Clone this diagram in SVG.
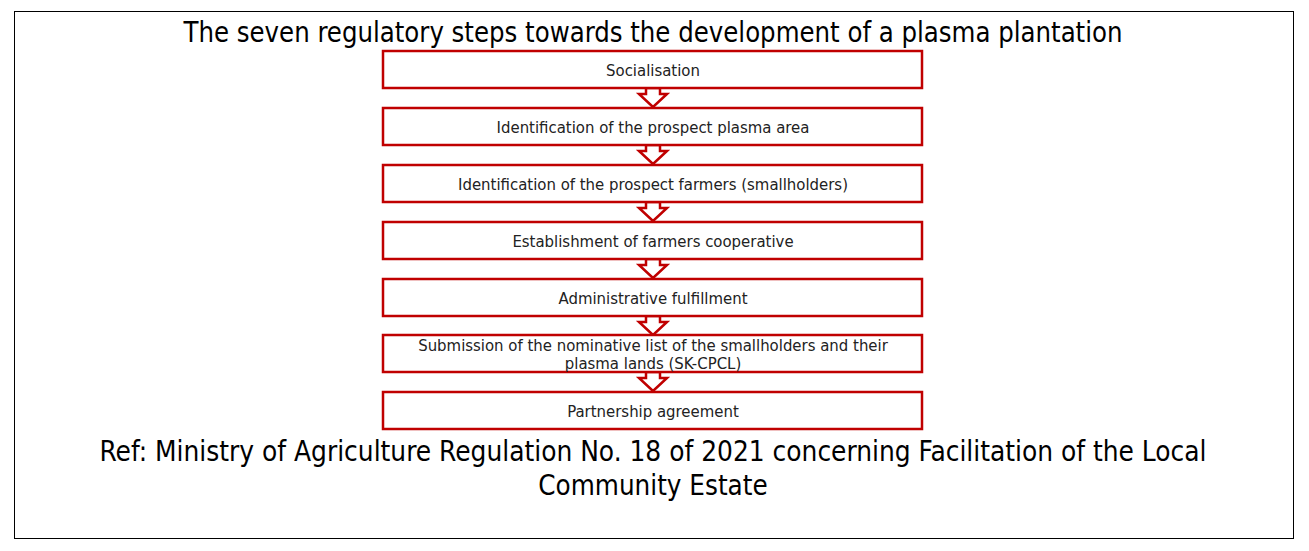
<svg xmlns="http://www.w3.org/2000/svg" width="1309" height="551" viewBox="0 0 1309 551">
<style>
.b{fill:#fff;stroke:#c00000;stroke-width:2.5}
.a{fill:#fff;stroke:#c00000;stroke-width:2.5;stroke-linejoin:miter}
.t{font-family:"DejaVu Sans Condensed","DejaVu Sans",sans-serif;font-size:16.6px;fill:#222;text-anchor:middle}
.h{font-family:"DejaVu Sans Condensed","DejaVu Sans",sans-serif;font-size:27.5px;fill:#000;text-anchor:middle}
</style>
<rect x="0" y="0" width="1309" height="551" fill="#fff"/>
<rect x="14.5" y="11.5" width="1279" height="527" fill="none" stroke="#000" stroke-width="1"/>
<text class="h" x="653" y="42" textLength="939" lengthAdjust="spacingAndGlyphs">The seven regulatory steps towards the development of a plasma plantation</text>
<g id="connectors">
<polygon class="a" points="646,88 646,94 639,94 653,107 667,94 660,94 660,88"/>
<polygon class="a" points="646,145 646,151 639,151 653,164 667,151 660,151 660,145"/>
<polygon class="a" points="646,202 646,208 639,208 653,221 667,208 660,208 660,202"/>
<polygon class="a" points="646,259 646,265 639,265 653,278 667,265 660,265 660,259"/>
<polygon class="a" points="646,316 646,322 639,322 653,335 667,322 660,322 660,316"/>
<polygon class="a" points="646,372 646,378 639,378 653,391 667,378 660,378 660,372"/>
</g>
<g id="n1"><rect class="b" x="383" y="51" width="539" height="37"/><text class="t" x="653" y="76">Socialisation</text></g>
<g id="n2"><rect class="b" x="383" y="108" width="539" height="37"/><text class="t" x="653" y="133">Identification of the prospect plasma area</text></g>
<g id="n3"><rect class="b" x="383" y="165" width="539" height="37"/><text class="t" x="653" y="190">Identification of the prospect farmers (smallholders)</text></g>
<g id="n4"><rect class="b" x="383" y="222" width="539" height="37"/><text class="t" x="653" y="247">Establishment of farmers cooperative</text></g>
<g id="n5"><rect class="b" x="383" y="279" width="539" height="37"/><text class="t" x="653" y="304">Administrative fulfillment</text></g>
<g id="n6"><rect class="b" x="383" y="335" width="539" height="37"/><text class="t" x="653" y="351">Submission of the nominative list of the smallholders and their</text><text class="t" x="653" y="369">plasma lands (SK-CPCL)</text></g>
<g id="n7"><rect class="b" x="383" y="392" width="539" height="37"/><text class="t" x="653" y="417">Partnership agreement</text></g>
<text class="h" x="653" y="461" textLength="1107" lengthAdjust="spacingAndGlyphs">Ref: Ministry of Agriculture Regulation No. 18 of 2021 concerning Facilitation of the Local</text>
<text class="h" x="653" y="495">Community Estate</text>
</svg>
